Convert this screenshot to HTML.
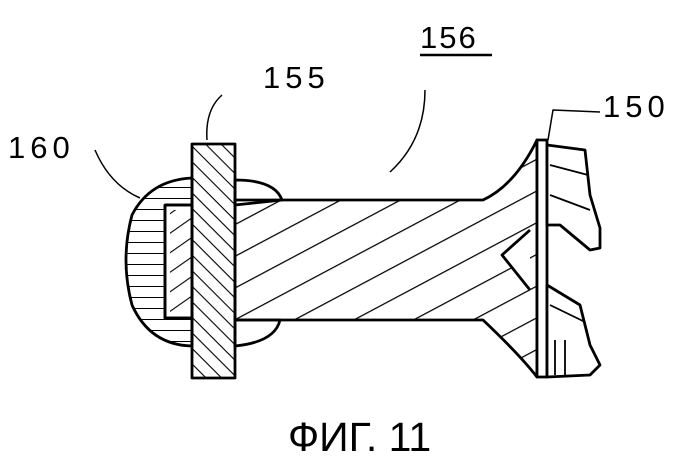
<!DOCTYPE html>
<html><head><meta charset="utf-8"><style>
html,body{margin:0;padding:0;background:#fff;width:700px;height:464px;overflow:hidden}
svg{display:block}
text{font-family:"Liberation Sans",sans-serif;fill:#000}
</style></head><body>
<svg width="700" height="464" viewBox="0 0 700 464">
<defs>
<pattern id="h1" width="28" height="28" patternUnits="userSpaceOnUse" patternTransform="rotate(-28)">
<line x1="0" y1="0" x2="28" y2="0" stroke="#000" stroke-width="2.6"/></pattern>
<pattern id="h2" width="11" height="11" patternUnits="userSpaceOnUse" patternTransform="rotate(45)">
<line x1="0" y1="0" x2="11" y2="0" stroke="#000" stroke-width="2.2"/></pattern>
<pattern id="h3" width="11" height="11" patternUnits="userSpaceOnUse">
<line x1="0" y1="0" x2="11" y2="0" stroke="#000" stroke-width="2"/></pattern>
<pattern id="h4" width="16" height="16" patternUnits="userSpaceOnUse" patternTransform="rotate(-35)">
<line x1="0" y1="0" x2="16" y2="0" stroke="#000" stroke-width="2.2"/></pattern>
</defs>
<g stroke="#000" stroke-width="2.8" fill="none" stroke-linejoin="round">
<path d="M95 150 Q110 185 140 198" stroke-width="1.5"/>
<path d="M207 140 Q205 110 222 95" stroke-width="1.5"/>
<path d="M390 172 Q425 140 425 90" stroke-width="1.5"/>
<path d="M548 140 L553 110 L600 112" stroke-width="1.5"/>
<path d="M192 178 Q150 180 132 215 Q120 260 132 305 Q150 345 192 346 Z" fill="url(#h3)"/>
<path d="M235 180 Q275 180 282 200 L235 205 Z" fill="#fff"/>
<path d="M235 320 L280 320 Q275 342 235 346 Z" fill="#fff"/>
<path d="M165 205 L192 205 L192 318 L165 318 Z" fill="#fff"/>
<path d="M170 210 L192 210 L192 313 L170 313 Z" fill="url(#h4)" stroke="none"/>
<path d="M235 200 L400 200 L483 200 Q515 185 537 140 L537 377 Q520 355 483 320 L235 320 Z" fill="url(#h1)"/>
<path d="M165 205 L192 205 M165 205 L165 318 L192 318" />
<path d="M530 230 L502 255 L530 290" fill="#fff"/>
<path d="M537 140 L547 140 L547 377 L537 377 Z" fill="#fff"/>
<path d="M547 145 L585 150 L590 195 L600 228 L600 248 L590 250 L560 225 L547 225 Z" fill="#fff"/>
<path d="M550 165 L588 175 M550 195 L590 210" stroke-width="1.8"/>
<path d="M547 285 L580 305 L590 345 L600 365 L590 375 L547 377 Z" fill="#fff"/>
<path d="M555 340 L555 375 M565 340 L565 375 M550 305 L585 322" stroke-width="1.8"/>
<rect x="192" y="144" width="43" height="234" fill="url(#h2)"/>
</g>
<text x="8" y="158" font-size="31" letter-spacing="5">160</text>
<text x="263" y="88" font-size="31" letter-spacing="5">155</text>
<text x="420" y="48" font-size="31" letter-spacing="2">156</text>
<line x1="420" y1="55" x2="492" y2="55" stroke="#000" stroke-width="2.5"/>
<text x="603" y="117" font-size="31" letter-spacing="5">150</text>
<text x="288" y="451" font-size="41">ФИГ. 11</text>
</svg>
</body></html>
